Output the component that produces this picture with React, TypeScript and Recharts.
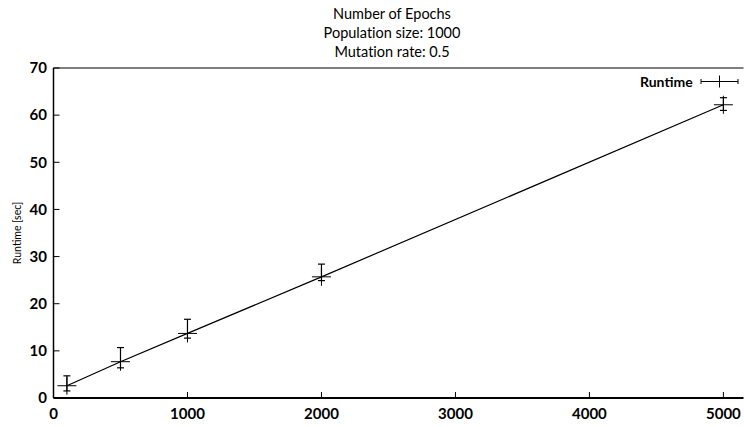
import { LineChart, Line, XAxis, YAxis, ErrorBar, Legend } from "recharts"

const EPOCHS = [100, 500, 1000, 2000, 5000]
const RUNTIME_MEAN = [2.6, 7.7, 13.7, 25.7, 62.2]
const RUNTIME_LOW = [1.5, 6.4, 12.7, 24.9, 61.0]
const RUNTIME_HIGH = [4.7, 10.7, 16.7, 28.4, 63.7]
const X_TICKS = [0, 1000, 2000, 3000, 4000, 5000]
const Y_TICKS = [0, 10, 20, 30, 40, 50, 60, 70]
const TITLE_LINES = ["Number of Epochs", "Population size: 1000", "Mutation rate: 0.5"]
const SERIES_NAME = "Runtime"
const Y_LABEL = "Runtime [sec]"

const FONT = "Lato, 'Open Sans', sans-serif"
const X_DOMAIN: [number, number] = [0, 5150]

const chartData = EPOCHS.map((epochs, i) => ({
  epochs,
  runtime: RUNTIME_MEAN[i],
  err: [RUNTIME_MEAN[i] - RUNTIME_LOW[i], RUNTIME_HIGH[i] - RUNTIME_MEAN[i]],
}))

// gnuplot-style "+" point marker
function PlusDot(props: any) {
  const { cx, cy, index } = props
  if (cx == null || cy == null) return <g key={index} />
  return (
    <g key={index}>
      <line x1={cx - 9.5} x2={cx + 9.5} y1={cy} y2={cy} stroke="#000" strokeWidth={1} />
      <line x1={cx} x2={cx} y1={cy - 9} y2={cy + 9} stroke="#000" strokeWidth={1} />
    </g>
  )
}

function KeyEntry() {
  return (
    <div
      style={{
        display: "flex",
        alignItems: "center",
        fontFamily: FONT,
        fontSize: 14,
        fontWeight: "bold",
        lineHeight: "17px",
        color: "#000",
      }}
    >
      <span>{SERIES_NAME}</span>
      <svg width={40} height={17} style={{ marginLeft: 7, display: "block" }}>
        <line x1={1} x2={38} y1={8.5} y2={8.5} stroke="#000" />
        <line x1={1} x2={1} y1={6} y2={11} stroke="#000" />
        <line x1={38} x2={38} y1={6} y2={11} stroke="#000" />
        <line x1={19.5} x2={19.5} y1={2.5} y2={14.5} stroke="#000" />
      </svg>
    </div>
  )
}

export default function App() {
  const tickStyle = { fill: "#000", fontSize: 15, fontFamily: FONT, fontWeight: "bold" }

  return (
    <div style={{ position: "absolute", left: 0, top: 0, width: 744, height: 427, background: "#fff" }}>
      <div
        style={{
          position: "absolute",
          left: 242,
          top: 4,
          width: 300,
          textAlign: "center",
          fontFamily: FONT,
          fontSize: 14.5,
          lineHeight: "19px",
          color: "#000",
          fontVariantLigatures: "none",
        }}
      >
        {TITLE_LINES.map((t) => (
          <div key={t}>{t}</div>
        ))}
      </div>
      <LineChart width={744} height={427} data={chartData} margin={{ top: 67, right: 0.5, bottom: 0, left: 0 }}>
        <XAxis
          dataKey="epochs"
          type="number"
          domain={X_DOMAIN}
          ticks={X_TICKS}
          height={29}
          tickSize={-6}
          tickMargin={16.5}
          tick={tickStyle}
          tickLine={{ stroke: "#000" }}
          axisLine={{ stroke: "#000", strokeWidth: 2 }}
        />
        <XAxis
          xAxisId="top"
          orientation="top"
          type="number"
          domain={X_DOMAIN}
          ticks={X_TICKS}
          height={1}
          tickSize={-6}
          tickFormatter={() => ""}
          tickLine={{ stroke: "#000" }}
          axisLine={{ stroke: "#000" }}
        />
        <YAxis
          type="number"
          domain={[0, 70]}
          ticks={Y_TICKS}
          width={53.5}
          tickSize={-6}
          tickMargin={12.5}
          tick={tickStyle}
          tickLine={{ stroke: "#000" }}
          axisLine={{ stroke: "#000", strokeWidth: 1.5 }}
          label={{
            value: Y_LABEL,
            content: ({ viewBox }: any) => {
              const cy = viewBox.y + viewBox.height / 2
              return (
                <text
                  x={17}
                  y={cy}
                  transform={`rotate(-90, 17, ${cy})`}
                  textAnchor="middle"
                  dominantBaseline="central"
                  fontFamily={FONT}
                  fontSize={10.5}
                  fill="#000"
                >
                  {Y_LABEL}
                </text>
              )
            },
          }}
        />
        <Legend
          layout="horizontal"
          verticalAlign="middle"
          align="center"
          wrapperStyle={{ left: 640, top: 73, width: "auto" }}
          content={() => <KeyEntry />}
        />
        <Line
          dataKey="runtime"
          name={SERIES_NAME}
          stroke="#000"
          strokeWidth={1.2}
          dot={(p: any) => <PlusDot key={p.index} {...p} />}
          activeDot={false}
          isAnimationActive={false}
        >
          <ErrorBar dataKey="err" width={3.5} stroke="#000" strokeWidth={1.2} direction="y" isAnimationActive={false} />
        </Line>
      </LineChart>
    </div>
  )
}
